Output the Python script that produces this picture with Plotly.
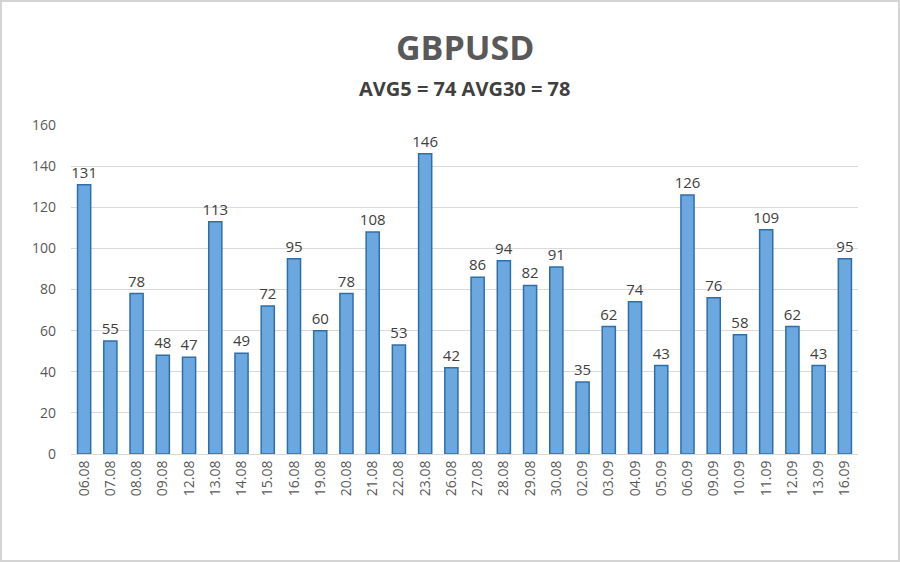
import plotly.graph_objects as go

dates = ["06.08","07.08","08.08","09.08","12.08","13.08","14.08","15.08","16.08","19.08",
         "20.08","21.08","22.08","23.08","26.08","27.08","28.08","29.08","30.08","02.09",
         "03.09","04.09","05.09","06.09","09.09","10.09","11.09","12.09","13.09","16.09"]
values = [131,55,78,48,47,113,49,72,95,60,78,108,53,146,42,86,94,82,91,35,
          62,74,43,126,76,58,109,62,43,95]
title_text = "GBPUSD"
subtitle_text = "AVG5 = 74 AVG30 = 78"
y_ticks = [0,20,40,60,80,100,120,140,160]

FONT = "Open Sans, Liberation Sans, sans-serif"
L, R, T, B = 71, 42, 125, 108
PW, PH = 900 - L - R, 562 - T - B

fig = go.Figure()
fig.add_trace(go.Bar(
    x=dates, y=values,
    marker=dict(color="#6AA8DF", line=dict(color="#2F6EA8", width=1.5)),
    text=[str(v) for v in values], textposition="outside", constraintext="none",
    textfont=dict(family=FONT, size=15, color="#404040"),
    cliponaxis=False,
))

fig.update_layout(
    width=900, height=562,
    margin=dict(l=L, r=R, t=T, b=B),
    paper_bgcolor="white", plot_bgcolor="white",
    bargap=0.5,
    showlegend=False,
    font=dict(family=FONT, color="#595959"),
)
fig.add_annotation(text="<b>"+title_text+"</b>", xref="paper", yref="paper", x=0.5, y=1,
                   xanchor="center", yanchor="middle", showarrow=False, yshift=T-47,
                   font=dict(family=FONT, size=34, color="#595959"))
fig.add_annotation(text="<b>"+subtitle_text+"</b>", xref="paper", yref="paper", x=0.5, y=1,
                   xanchor="center", yanchor="middle", showarrow=False, yshift=T-88,
                   font=dict(family=FONT, size=20, color="#404040"))

fig.update_xaxes(type="category", tickangle=-90, showgrid=False, showline=True,
                 linecolor="#D9D9D9", ticks="",
                 tickfont=dict(family=FONT, size=14, color="#595959"))
fig.update_yaxes(range=[0,160], tickvals=y_ticks, showgrid=True, gridcolor="#D9D9D9",
                 zeroline=False, showline=False, ticks="", ticklabelstandoff=14,
                 tickfont=dict(family=FONT, size=14, color="#595959"))

fig.add_shape(type="rect", xref="paper", yref="paper",
              x0=(1-L)/PW, x1=(899-L)/PW, y0=(562-B-561)/PH, y1=(562-B-1)/PH,
              line=dict(color="#D4D4D4", width=2), fillcolor="rgba(0,0,0,0)")

fig.write_html("out.html", config={"displayModeBar": False},
               post_script="document.body.style.margin='0';document.body.style.overflow='hidden';")
